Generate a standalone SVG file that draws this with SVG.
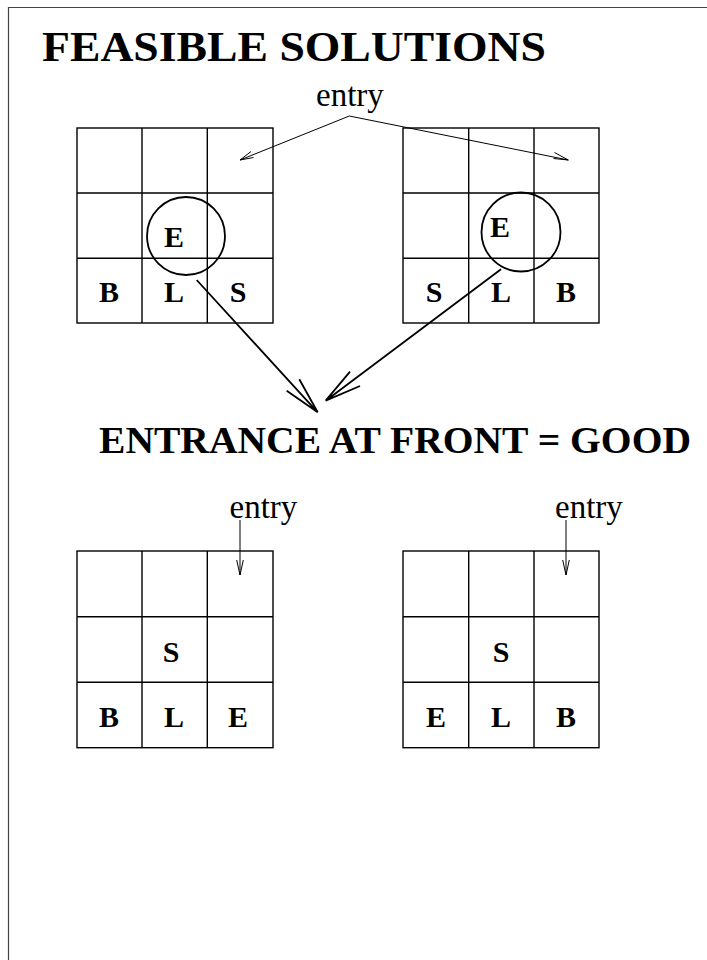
<svg xmlns="http://www.w3.org/2000/svg" width="707" height="960" viewBox="0 0 707 960">
<style>
.grid{fill:none;stroke:#000;stroke-width:1.4}
.circ{fill:none;stroke:#000;stroke-width:1.8}
.lbl{font-family:"Liberation Serif","Times New Roman",serif;font-weight:bold;font-size:30px;text-anchor:middle;fill:#000}
.entry{font-family:"Liberation Serif","Times New Roman",serif;font-size:33px;fill:#000}
.title{font-family:"Liberation Serif","Times New Roman",serif;font-weight:bold;fill:#000}
.thin{fill:none;stroke:#000;stroke-width:1}
.thick{fill:none;stroke:#000;stroke-width:1.8}
</style>
<rect width="707" height="960" fill="#fff"/>
<path d="M8.5,960 V7.5 H707" fill="none" stroke="#444" stroke-width="1.2"/>
<text class="title" x="42" y="61" font-size="43" textLength="504" lengthAdjust="spacingAndGlyphs">FEASIBLE SOLUTIONS</text>
<text class="title" x="99" y="453" font-size="38" textLength="592" lengthAdjust="spacingAndGlyphs">ENTRANCE AT FRONT = GOOD</text>

<g id="grid1">
<rect class="grid" x="77" y="128" width="196" height="195"/>
<path class="grid" d="M142,128V323M207.3,128V323M77,193H273M77,258.3H273"/>
<circle class="circ" cx="186" cy="236" r="39"/>
<text class="lbl" x="174" y="247">E</text>
<text class="lbl" x="109" y="302">B</text>
<text class="lbl" x="174" y="302">L</text>
<text class="lbl" x="238" y="302">S</text>
</g>
<g id="grid2">
<rect class="grid" x="403" y="128" width="196" height="195"/>
<path class="grid" d="M468.7,128V323M534,128V323M403,193H599M403,258.3H599"/>
<circle class="circ" cx="521" cy="232" r="39.5"/>
<text class="lbl" x="500" y="237">E</text>
<text class="lbl" x="434" y="302">S</text>
<text class="lbl" x="501" y="302">L</text>
<text class="lbl" x="566" y="302">B</text>
</g>
<g id="grid3">
<rect class="grid" x="77" y="551" width="196" height="196.7"/>
<path class="grid" d="M142,551V747.7M207.3,551V747.7M77,616.7H273M77,682.3H273"/>
<text class="lbl" x="171" y="662">S</text>
<text class="lbl" x="109" y="727">B</text>
<text class="lbl" x="174" y="727">L</text>
<text class="lbl" x="238" y="727">E</text>
</g>
<g id="grid4">
<rect class="grid" x="403" y="551" width="196" height="196.7"/>
<path class="grid" d="M468.7,551V747.7M534,551V747.7M403,616.7H599M403,682.3H599"/>
<text class="lbl" x="501" y="662">S</text>
<text class="lbl" x="436" y="727">E</text>
<text class="lbl" x="501" y="727">L</text>
<text class="lbl" x="566" y="727">B</text>
</g>
<g id="labels">
<text class="entry" x="316" y="106">entry</text>
<text class="entry" x="229.5" y="518">entry</text>
<text class="entry" x="555" y="518">entry</text>
</g>
<g id="connectors">
<path class="thin" d="M349.3,116 L240,160 M251,151.5 L240,160 L253.5,157.5"/>
<path class="thin" d="M349.3,116 L568.3,160 M554.5,152.5 L568.3,160 L553.5,158.5"/>
<path class="thin" d="M240,520 V575 M236.7,560 L240,575 L243.3,560"/>
<path class="thin" d="M566,520 V575 M562.7,560 L566,575 L569.3,560"/>
<path class="thick" d="M196.7,280 L317.7,412.3 M286.7,390.7 L317.7,412.3 L299.3,379.3"/>
<path class="thick" d="M501,269.3 L325.7,400.7 M350,371.7 L325.7,400.7 L360,386"/>
</g>
</svg>
